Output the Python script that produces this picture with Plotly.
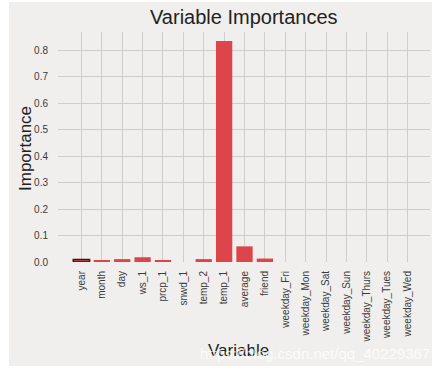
import plotly.graph_objects as go

variables = ["year", "month", "day", "ws_1", "prcp_1", "snwd_1", "temp_2", "temp_1",
             "average", "friend", "weekday_Fri", "weekday_Mon", "weekday_Sat",
             "weekday_Sun", "weekday_Thurs", "weekday_Tues", "weekday_Wed"]
importances = [0.009, 0.004, 0.011, 0.018, 0.004, 0.0, 0.011, 0.834,
               0.059, 0.013, 0.0, 0.0, 0.0, 0.0, 0.0, 0.0, 0.0]
y_ticks = [0.0, 0.1, 0.2, 0.3, 0.4, 0.5, 0.6, 0.7, 0.8]

BG = "#f0efed"
GRID = "#cfcec8"
BAR = "#dc454a"
FONT = "Liberation Sans, Arial, sans-serif"

W, H = 442, 376
L, R, T, B = 58, 12, 32, 114
pw, ph = W - L - R, H - T - B

def px_x(x):
    return (x - L) / pw

def px_y(y):
    return (H - B - y) / ph

edge_w = [1.5 if v == "year" else 0 for v in variables]

fig = go.Figure(go.Bar(
    x=list(range(len(variables))), y=importances, width=0.8,
    marker=dict(color=BAR, line=dict(color="#222222", width=edge_w)),
))

fig.update_layout(
    width=W, height=H,
    margin=dict(l=L, r=R, t=T, b=B, autoexpand=False),
    paper_bgcolor="white", plot_bgcolor=BG,
    font=dict(family=FONT, color="#333333"),
    showlegend=False,
    bargap=0.2,
    shapes=[dict(type="rect", xref="paper", yref="paper",
                 x0=px_x(9), x1=px_x(432), y0=px_y(366), y1=px_y(2),
                 fillcolor=BG, line=dict(width=0), layer="below")],
    annotations=[
        dict(text="Variable Importances", xref="paper", yref="paper",
             x=px_x(244), y=px_y(17), xanchor="center", yanchor="middle",
             showarrow=False,
             font=dict(size=20, color="#222222", family=FONT)),
        dict(text="Importance", xref="paper", yref="paper", textangle=-90,
             x=px_x(25), y=px_y(149), xanchor="center", yanchor="middle",
             showarrow=False,
             font=dict(size=17, color="#222222", family=FONT)),
        dict(text="Variable", xref="paper", yref="paper",
             x=px_x(238), y=px_y(350), xanchor="center", yanchor="middle",
             showarrow=False,
             font=dict(size=17, color="#222222", family=FONT)),
        dict(text="https://blog.csdn.net/qq_40229367", xref="paper", yref="paper",
             x=px_x(432), y=px_y(364), xanchor="right", yanchor="bottom",
             showarrow=False, opacity=0.75,
             font=dict(size=15, color="#ffffff", family=FONT)),
    ],
)

fig.update_xaxes(
    range=[-1.15, 17.1], tickmode="array",
    tickvals=list(range(len(variables))), ticktext=variables,
    tickangle=-90, tickfont=dict(size=10, color="#3a3a3a"),
    showgrid=True, gridcolor=GRID, gridwidth=1, zeroline=False,
    showline=False, ticks="", ticklabelstandoff=6, automargin=False,
)
fig.update_yaxes(
    range=[0, 0.868], tickmode="array", tickvals=y_ticks,
    ticktext=[f"{v:.1f}" for v in y_ticks],
    tickfont=dict(size=10, color="#3a3a3a"),
    showgrid=True, gridcolor=GRID, gridwidth=1, zeroline=False,
    showline=False, ticks="", ticklabelstandoff=9, automargin=False,
)

fig.write_html("out.html", config={"displayModeBar": False},
               post_script="document.body.style.margin='0px';")
